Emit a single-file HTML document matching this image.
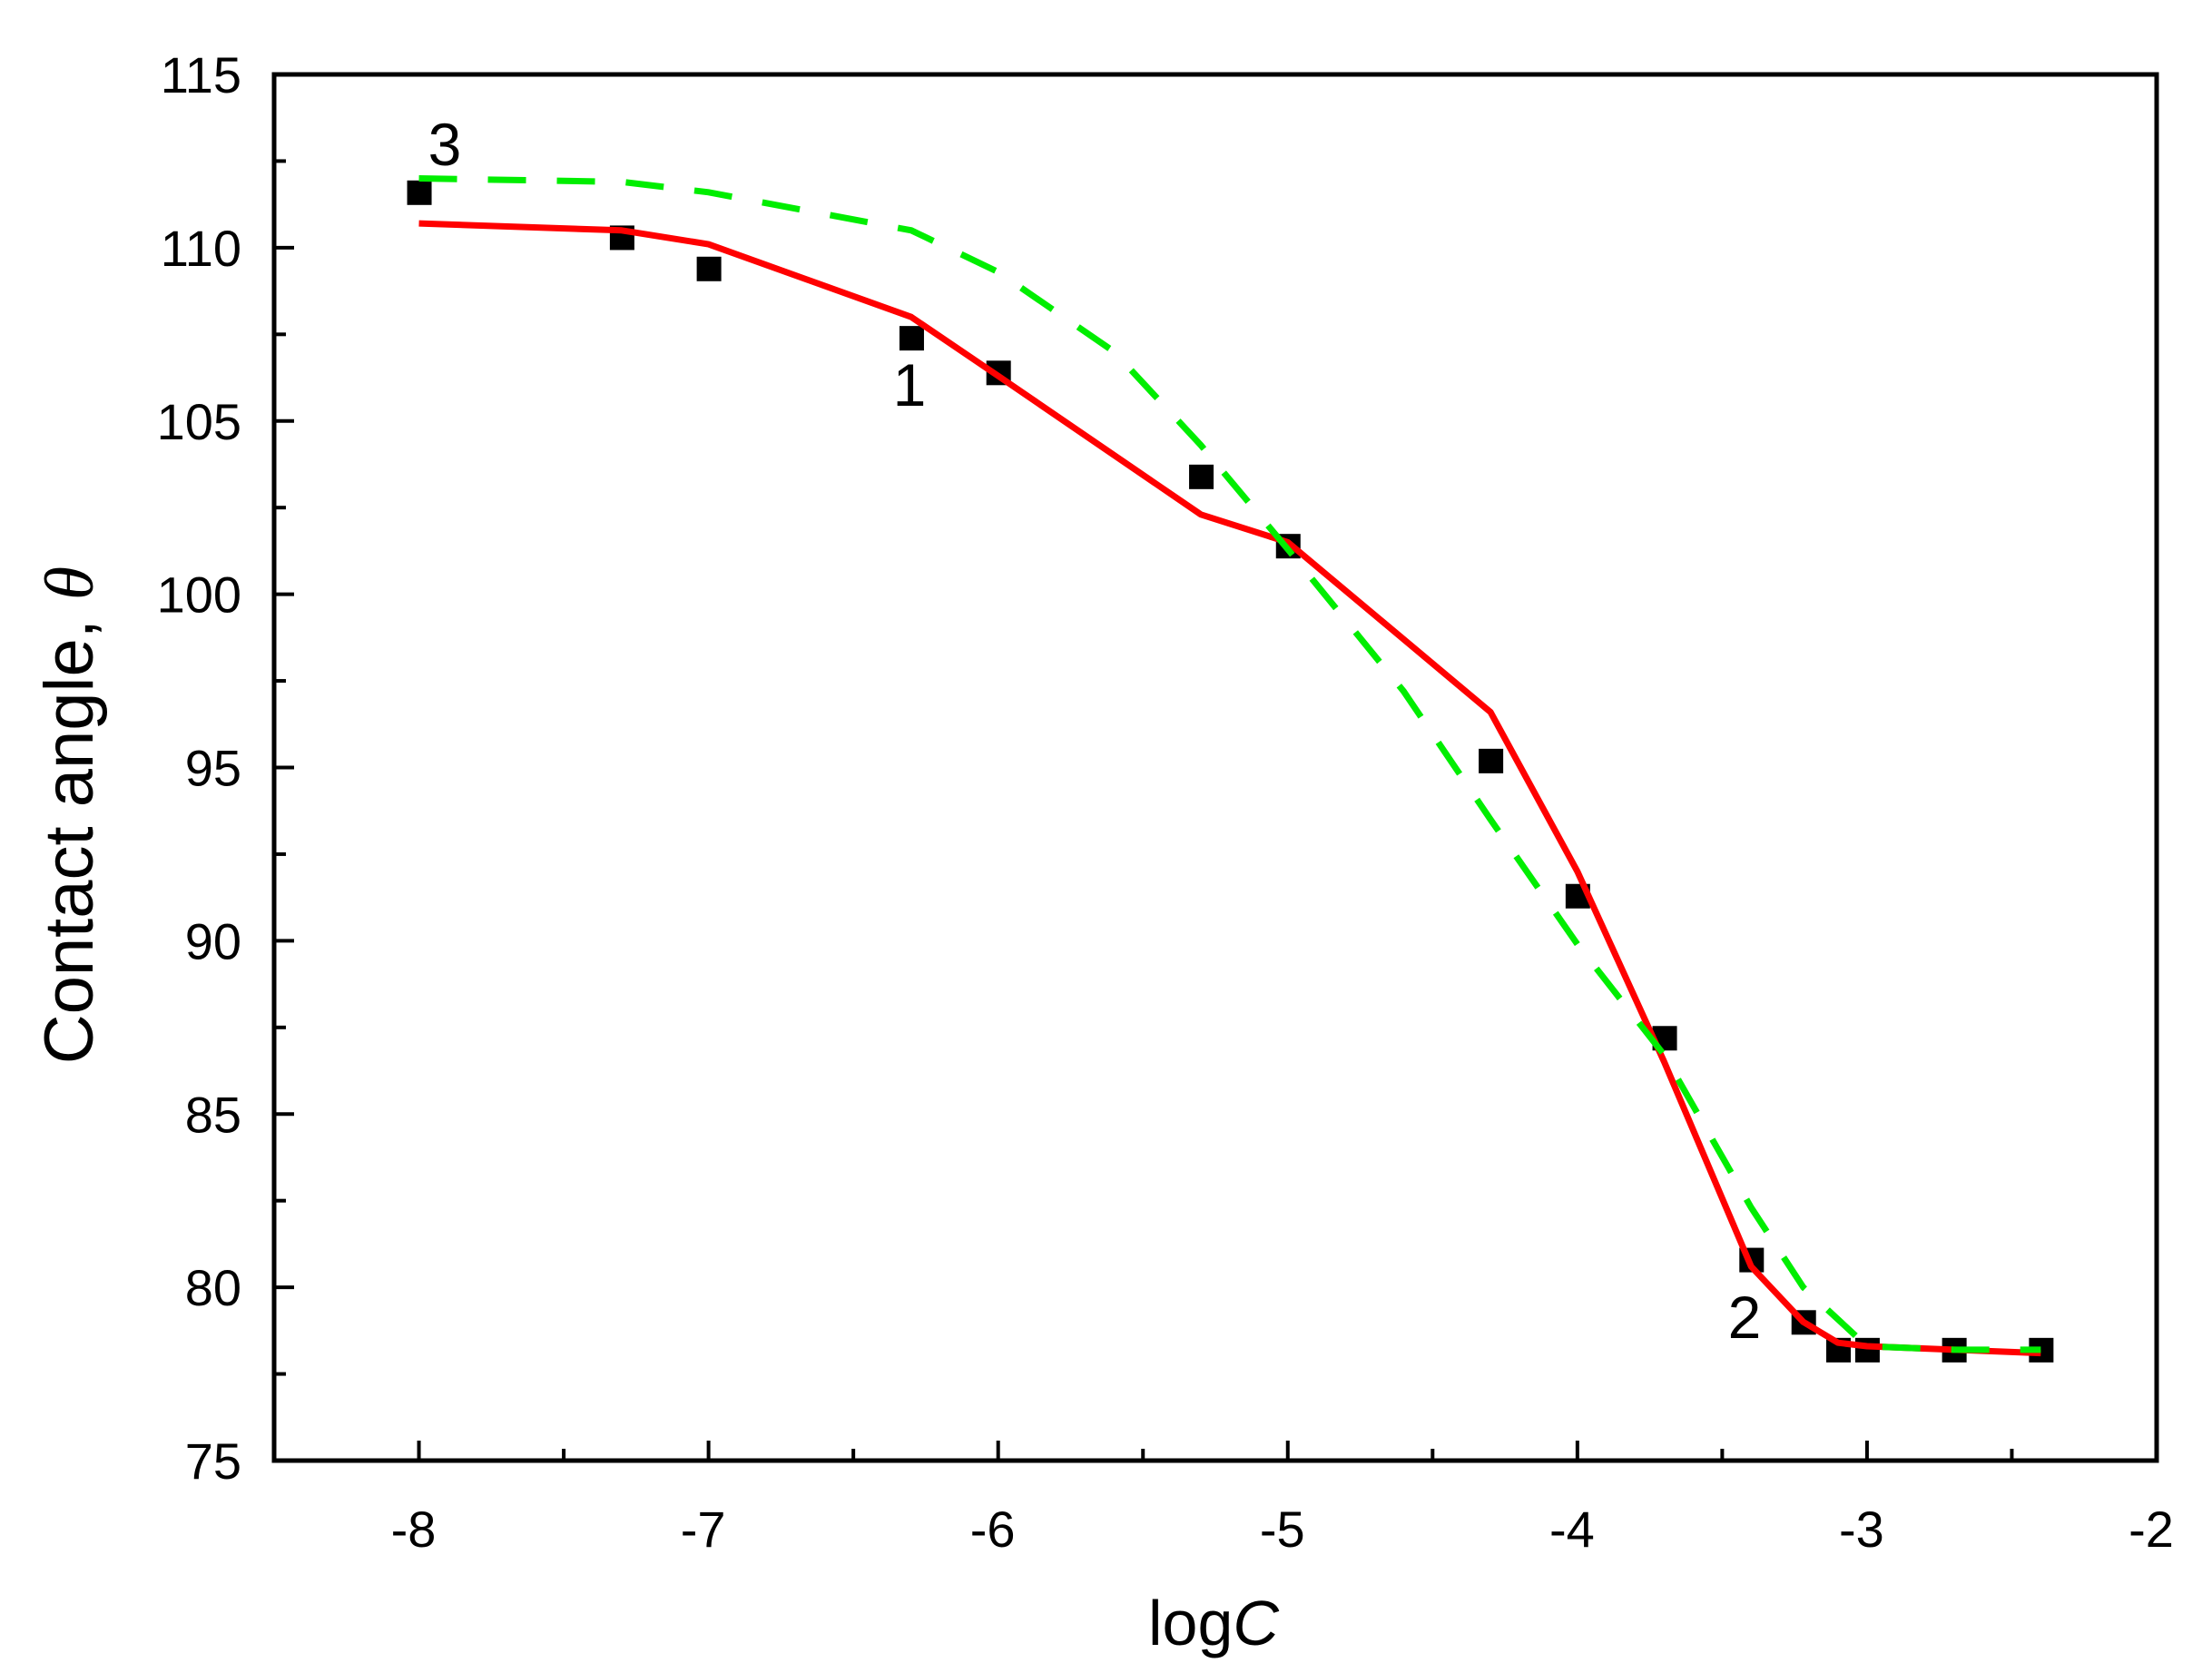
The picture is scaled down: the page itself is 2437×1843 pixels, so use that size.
<!DOCTYPE html>
<html><head><meta charset="utf-8"><style>
html,body{margin:0;padding:0;background:#fff;}
svg{display:block;font-family:"Liberation Sans",Arial,sans-serif;}
</style></head><body>
<svg id="s" width="2437" height="1843" xmlns="http://www.w3.org/2000/svg">
<rect width="2437" height="1843" fill="#fff"/>
<text x="1337" y="1812" font-size="70" text-anchor="middle">log<tspan font-style="italic">C</tspan></text>
<text transform="translate(102,898) rotate(-90)" font-size="76" text-anchor="middle">Contact angle, <tspan font-style="italic" font-family="Liberation Serif">θ</tspan></text>
<text x="490" y="182" font-size="66" text-anchor="middle">3</text>
<text x="1002" y="447" font-size="66" text-anchor="middle">1</text>
<text x="1922" y="1474" font-size="66" text-anchor="middle">2</text>
</svg>
<script>
var s=document.getElementById('s'),NS='http://www.w3.org/2000/svg';
var L=302,R=2376,T=82,B=1609;
function X(v){return L+(v+8.5)*(R-L)/6.5;}
function Y(v){return B-(v-75)*(B-T)/40;}
function el(n,a,t){var e=document.createElementNS(NS,n);for(var k in a)e.setAttribute(k,a[k]);if(t!=null)e.textContent=t;s.appendChild(e);return e;}
for(var v=75;v<=115;v+=2.5){var maj=(v%5==0);el('line',{x1:L,x2:L+(maj?22:13),y1:Y(v),y2:Y(v),stroke:'#000','stroke-width':4});
 if(maj)el('text',{x:L-36,y:Y(v)+20,'font-size':56,'text-anchor':'end'},v);}
for(var v=-8.5;v<=-2;v+=0.5){var maj=(Math.abs(v-Math.round(v))<1e-6);el('line',{x1:X(v),x2:X(v),y1:B,y2:B-(maj?22:13),stroke:'#000','stroke-width':4});
 if(maj)el('text',{x:X(v)-6,y:B+95,'font-size':56,'text-anchor':'middle'},v);}
function pl(d,a){a.points=d.map(function(p){return X(p[0])+','+Y(p[1]);}).join(' ');a.fill='none';el('polyline',a);}
var G=[[-8,112],[-7.3,111.9],[-7,111.6],[-6.3,110.5],[-6,109.3],[-5.6,107],[-5.3,104.3],[-5,101.3],[-4.6,97.2],[-4.3,93.5],[-4,89.9],[-3.7,86.7],[-3.4,82.3],[-3.22,80],[-3,78.3],[-2.7,78.2],[-2.4,78.2]];
var Rd=[[-8,110.7],[-7.3,110.5],[-7,110.1],[-6.3,108],[-6,106.3],[-5.3,102.3],[-5,101.5],[-4.3,96.6],[-4,92],[-3.7,86.5],[-3.4,80.6],[-3.22,79],[-3.1,78.4],[-3,78.3],[-2.7,78.2],[-2.4,78.1]];
var P=[[-8,111.6],[-7.3,110.3],[-7,109.4],[-6.3,107.4],[-6,106.4],[-5.3,103.4],[-5,101.4],[-4.3,95.2],[-4,91.3],[-3.7,87.2],[-3.4,80.8],[-3.22,79],[-3.1,78.2],[-3,78.2],[-2.7,78.2],[-2.4,78.2]];
P.forEach(function(p){el('rect',{x:X(p[0])-13,y:Y(p[1])-13,width:27,height:27,fill:'#000'});});
pl(Rd,{stroke:'#ff0000','stroke-width':7,'stroke-linejoin':'round'});
pl(G,{stroke:'#00ee00','stroke-width':7,'stroke-dasharray':'42 34'});
el('rect',{x:L,y:T,width:R-L,height:B-T,fill:'none',stroke:'#000','stroke-width':5});
</script>
</body></html>
